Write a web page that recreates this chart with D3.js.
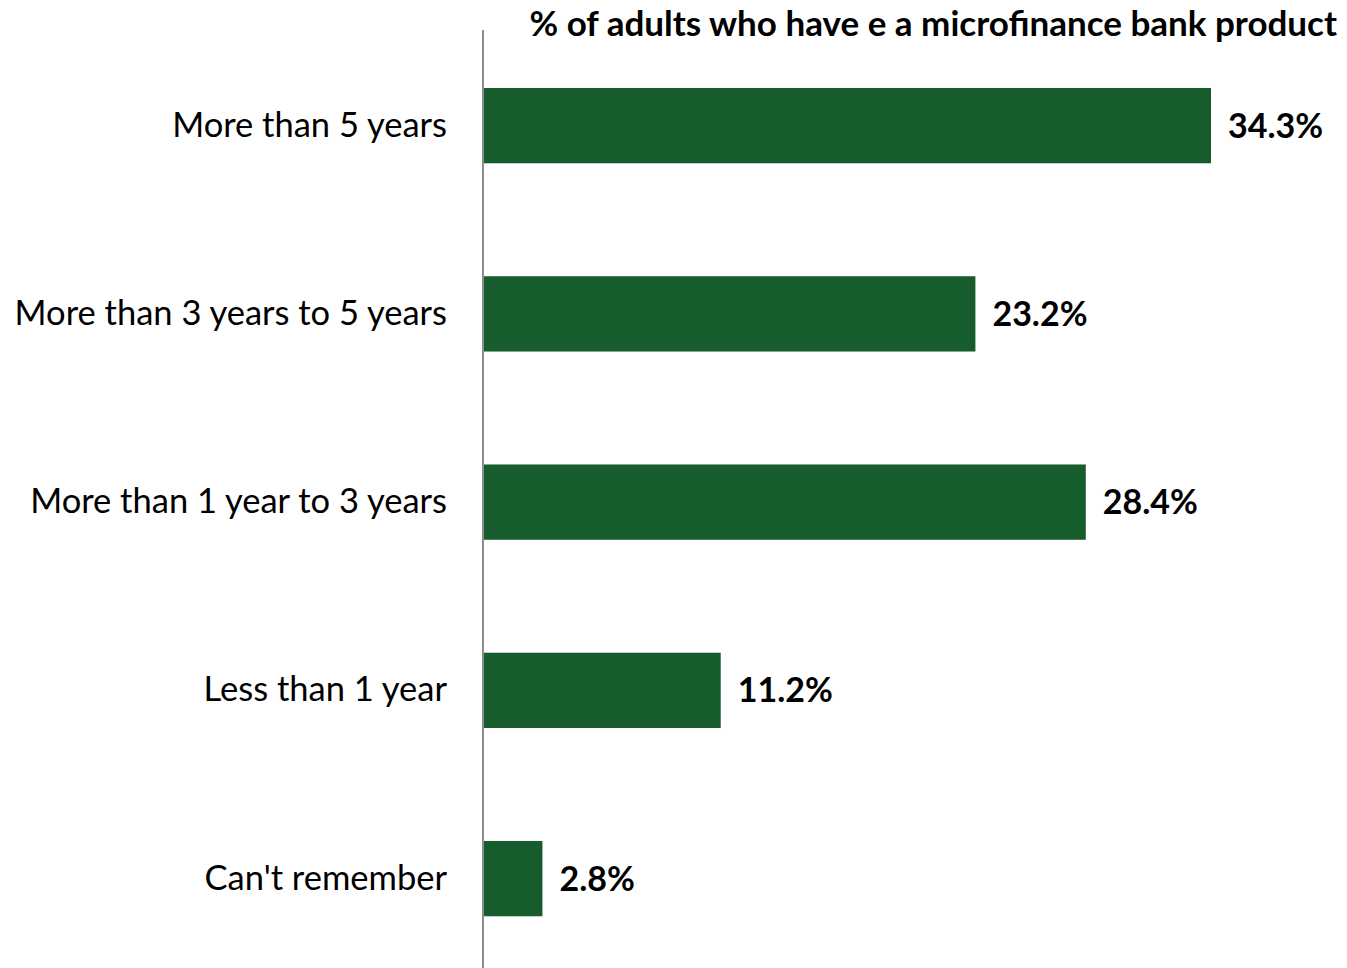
<!DOCTYPE html>
<html>
<head>
<meta charset="utf-8">
<script src="https://cdn.jsdelivr.net/npm/d3@7"></script>
<style>
  html, body { margin: 0; padding: 0; background: #ffffff; }
  svg { display: block; font-family: Lato, "Open Sans", sans-serif; }
</style>
</head>
<body>
<svg id="chart" width="1347" height="968"></svg>
<script>
// Length of time adults have held a microfinance bank product
const categories = [
  "More than 5 years",
  "More than 3 years to 5 years",
  "More than 1 year to 3 years",
  "Less than 1 year",
  "Can't remember"
];
const shares = [34.3, 23.2, 28.4, 11.2, 2.8];
const title = "% of adults who have e a microfinance bank product";

const svg = d3.select("#chart");
const width = 1347, height = 968;
const axisX = 483;

const x = d3.scaleLinear().domain([0, 34.3]).range([axisX, 1211]);
const y = d3.scaleBand()
  .domain(categories)
  .range([31.5, 972.75])
  .paddingInner(0.6)
  .paddingOuter(0.3);

const data = categories.map((c, i) => ({ category: c, value: shares[i] }));

// Bars
svg.append("g")
  .selectAll("rect")
  .data(data)
  .join("rect")
  .attr("x", x(0))
  .attr("y", d => y(d.category))
  .attr("width", d => x(d.value) - x(0))
  .attr("height", y.bandwidth())
  .attr("fill", "#175c2c");

// Category axis on the left, drawn without ticks
const yAxis = svg.append("g")
  .attr("transform", `translate(${axisX},0)`)
  .call(d3.axisLeft(y).tickSize(0).tickPadding(36));
yAxis.select(".domain").remove();
yAxis.selectAll("text")
  .attr("font-family", "Lato, 'Open Sans', sans-serif")
  .attr("font-size", 34.5)
  .attr("fill", "#000");

// Vertical baseline
svg.append("line")
  .attr("x1", axisX).attr("x2", axisX)
  .attr("y1", 30).attr("y2", height)
  .attr("stroke", "#8c8c8c")
  .attr("stroke-width", 2);

// Value labels
svg.append("g")
  .selectAll("text")
  .data(data)
  .join("text")
  .attr("x", d => x(d.value) + 17)
  .attr("y", d => y(d.category) + y.bandwidth() / 2)
  .attr("dy", "0.35em")
  .attr("font-size", 34)
  .attr("font-weight", "bold")
  .attr("fill", "#000")
  .text(d => d.value.toFixed(1) + "%");

// Title
svg.append("text")
  .attr("x", 1337)
  .attr("y", 36)
  .attr("text-anchor", "end")
  .attr("font-size", 35)
  .attr("font-weight", "bold")
  .attr("fill", "#000")
  .text(title);
</script>
</body>
</html>
